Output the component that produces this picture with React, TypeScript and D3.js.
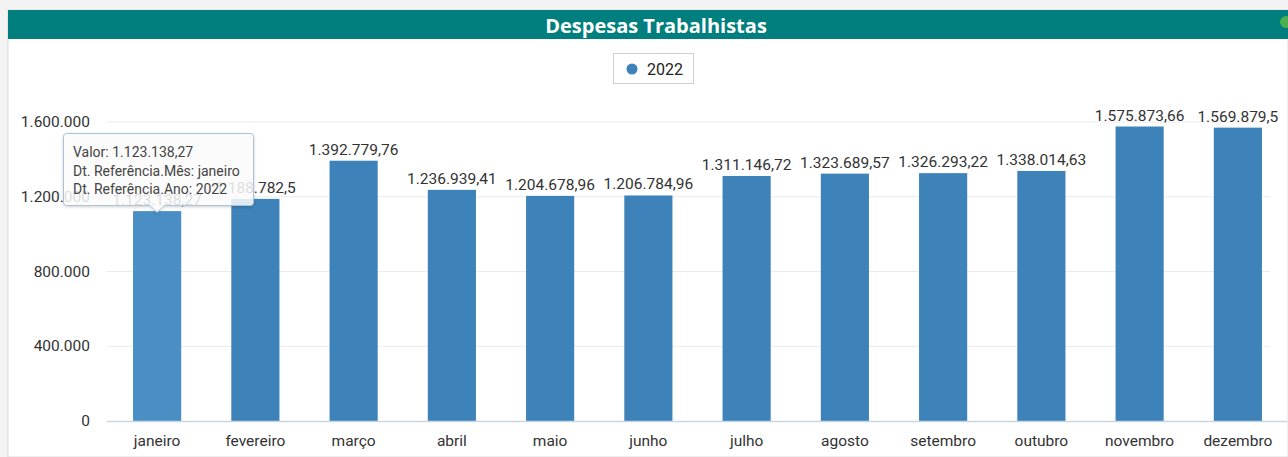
import React, { useEffect, useRef } from "react";
import * as d3 from "d3";

const months = [
  "janeiro", "fevereiro", "março", "abril", "maio", "junho",
  "julho", "agosto", "setembro", "outubro", "novembro", "dezembro",
];
const values2022 = [
  1123138.27, 1188782.5, 1392779.76, 1236939.41, 1204678.96, 1206784.96,
  1311146.72, 1323689.57, 1326293.22, 1338014.63, 1575873.66, 1569879.5,
];
const yTicks = [0, 400000, 800000, 1200000, 1600000];
const tooltipLines = [
  "Valor: 1.123.138,27",
  "Dt. Referência.Mês: janeiro",
  "Dt. Referência.Ano: 2022",
];

const W = 1288;
const H = 457;
const FONT = "Roboto, 'Segoe UI', sans-serif";

// pt-BR style formatting: dots for thousands, comma for decimals
const ptBR = d3.formatLocale({
  decimal: ",",
  thousands: ".",
  grouping: [3],
  currency: ["R$", ""],
});
const fmtInt = ptBR.format(",d");
const fmtVal = (v: number) => {
  const s = ptBR.format(",.2f")(v);
  return s.replace(/,?0+$/, (m) => (m.startsWith(",") ? "" : m.replace(/0+$/, "")));
};

const App = () => {
  const ref = useRef<SVGSVGElement>(null);

  useEffect(() => {
    const svg = d3.select(ref.current);
    svg.selectAll("*").remove();

    const x = d3.scaleBand().domain(months).range([108, 1287]).paddingInner(0.51).paddingOuter(0.255);
    const y = d3.scaleLinear().domain([0, 1600000]).range([421, 122]);

    // page background + panel
    svg.append("rect").attr("width", W).attr("height", H).attr("fill", "#f3f3f3");
    svg.append("rect").attr("x", 8).attr("y", 10).attr("width", W - 8).attr("height", H - 10)
      .attr("fill", "#fff").attr("stroke", "#dcdcdc");

    // header
    svg.append("rect").attr("x", 8).attr("y", 10).attr("width", W - 8).attr("height", 29).attr("fill", "#007f7e");
    svg.append("text").attr("x", 656).attr("y", 33).attr("text-anchor", "middle")
      .attr("fill", "#fff").attr("font-size", 20).attr("font-weight", "bold")
      .attr("font-family", "'Open Sans', sans-serif").text("Despesas Trabalhistas");
    svg.append("circle").attr("cx", 1286).attr("cy", 22).attr("r", 6).attr("fill", "#4cae4c");

    // legend
    const lg = svg.append("g");
    lg.append("rect").attr("x", 613.5).attr("y", 53.5).attr("width", 80).attr("height", 30)
      .attr("fill", "#fff").attr("stroke", "#cfcfcf");
    lg.append("circle").attr("cx", 632).attr("cy", 69).attr("r", 5.5).attr("fill", "#3d82b8");
    lg.append("text").attr("x", 647).attr("y", 75).attr("font-size", 16).attr("fill", "#222")
      .attr("font-family", FONT).text("2022");

    // grid + y labels
    const grid = svg.append("g");
    grid.selectAll("line").data(yTicks.filter((t) => t > 0)).join("line")
      .attr("x1", 107).attr("x2", 1270).attr("y1", (d) => y(d)).attr("y2", (d) => y(d))
      .attr("stroke", "#ebebeb");
    svg.append("g").selectAll("text").data(yTicks).join("text")
      .attr("x", 90).attr("y", (d) => y(d) + 5).attr("text-anchor", "end")
      .attr("font-size", 15.5).attr("fill", "#333").attr("font-family", FONT)
      .text((d) => fmtInt(d));

    // bars
    svg.append("g").selectAll("rect").data(values2022).join("rect")
      .attr("x", (_, i) => x(months[i])!)
      .attr("width", x.bandwidth())
      .attr("y", (d) => y(d))
      .attr("height", (d) => y(0) - y(d))
      .attr("fill", (_, i) => (i === 0 ? "#4a8fc4" : "#3d82b8"));

    // baseline
    svg.append("line").attr("x1", 107).attr("x2", 1287).attr("y1", y(0) + 0.5).attr("y2", y(0) + 0.5)
      .attr("stroke", "#c9d6e3").attr("stroke-width", 1.5);

    // value labels
    svg.append("g").selectAll("text").data(values2022).join("text")
      .attr("x", (_, i) => x(months[i])! + x.bandwidth() / 2)
      .attr("y", (d) => y(d) - 6)
      .attr("text-anchor", "middle").attr("font-size", 15.5).attr("fill", "#333")
      .attr("font-family", FONT).text((d) => fmtVal(d));

    // x labels
    svg.append("g").selectAll("text").data(months).join("text")
      .attr("x", (d) => x(d)! + x.bandwidth() / 2).attr("y", 446)
      .attr("text-anchor", "middle").attr("font-size", 15.5).attr("fill", "#333")
      .attr("font-family", FONT).text((d) => d);

    // tooltip over janeiro
    const tipX = x(months[0])! + x.bandwidth() / 2;
    const tip = svg.append("g");
    const defs = svg.append("defs");
    const f = defs.append("filter").attr("id", "shadow").attr("x", -0.1).attr("y", -0.1)
      .attr("width", 1.2).attr("height", 1.3);
    f.append("feDropShadow").attr("dx", 0).attr("dy", 1).attr("stdDeviation", 1.5)
      .attr("flood-color", "#000").attr("flood-opacity", 0.2);
    const tx0 = 63.5, tx1 = 253.5, ty0 = 133.5, ty1 = 205.5;
    tip.append("path")
      .attr("d", `M${tx0 + 3},${ty0} H${tx1 - 3} Q${tx1},${ty0} ${tx1},${ty0 + 3} V${ty1 - 3} Q${tx1},${ty1} ${tx1 - 3},${ty1}
        H${tipX + 7} L${tipX},${ty1 + 7} L${tipX - 7},${ty1} H${tx0 + 3} Q${tx0},${ty1} ${tx0},${ty1 - 3} V${ty0 + 3} Q${tx0},${ty0} ${tx0 + 3},${ty0} Z`)
      .attr("fill", "#fff").attr("fill-opacity", 0.82).attr("stroke", "#a9c3da")
      .attr("filter", "url(#shadow)");
    tip.selectAll("text").data(tooltipLines).join("text")
      .attr("x", 73).attr("y", (_, i) => 157 + i * 18.5)
      .attr("font-size", 14).attr("fill", "#444").attr("font-family", FONT)
      .text((d) => d);
  }, []);

  return (
    <svg
      ref={ref}
      width={W}
      height={H}
      style={{ position: "fixed", left: 0, top: 0, display: "block" }}
    />
  );
};

export default App;
